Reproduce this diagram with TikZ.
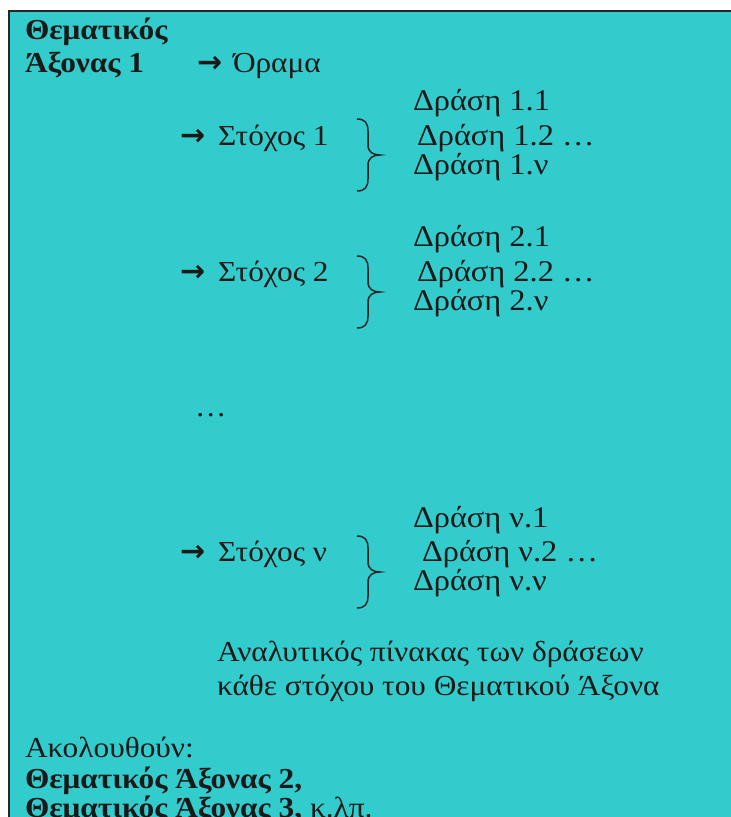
\documentclass[tikz,border=0pt]{standalone}
\usepackage{fontspec}
\setmainfont{Liberation Serif}[FakeStretch=1.08]
\newfontfamily\arrowfont{DejaVu Sans}
\definecolor{boxteal}{RGB}{51,204,204}
\tikzset{
  txt/.style={anchor=base west, inner sep=0pt, outer sep=0pt, font=\fontsize{29}{34}\selectfont, text=black!90},
  btxt/.style={txt, font=\fontsize{29}{34}\selectfont\bfseries},
  dtxt/.style={txt, font=\fontsize{30}{35}\selectfont},
  arr/.style={anchor=base west, inner sep=0pt, outer sep=0pt, font=\arrowfont\bfseries\fontsize{30}{36}\selectfont, text=black!90},
  bracestyle/.style={line width=1.5pt, black!85},
}
\newcommand{\mybrace}[3]{% x, ytop, ymid
  \draw[bracestyle] (#1,#2) .. controls ++(8,0) and ++(0,-8) .. (#1+11,#2+12)
    -- (#1+11,#3-10) .. controls ++(0,7) and ++(-7,0) .. (#1+23,#3)
    .. controls ++(-7,0) and ++(0,-7) .. (#1+11,#3+10)
    -- (#1+11,2*#3-#2-12) .. controls ++(0,8) and ++(8,0) .. (#1,2*#3-#2);
}
\begin{document}
\begin{tikzpicture}[x=1pt,y=-1pt]
\useasboundingbox (0,0) rectangle (731,817);
\clip (0,0) rectangle (731,817);
\fill[white] (0,0) rectangle (731,817);
\fill[boxteal] (9,11) rectangle (740,830);
\draw[line width=2pt, black!85] (9,830) -- (9,11) -- (740,11);

\node[btxt] (t1) at (25,39) {Θεματικός};
\node[btxt] (t2) at (25,72) {Άξονας 1};
\node[arr] (a0) at (197,72) {→};
\node[txt] (orama) at (233,72) {Όραμα};

\node[dtxt] (d11) at (413,110) {Δράση 1.1};
\node[arr] (a1) at (180,145) {→};
\node[txt] (s1) at (218,145) {Στόχος 1};
\node[dtxt] (d12) at (417,145) {Δράση 1.2 …};
\node[dtxt] (d1n) at (413,174) {Δράση 1.ν};
\mybrace{357}{119}{155}

\node[dtxt] (d21) at (413,246) {Δράση 2.1};
\node[arr] (a2) at (180,281) {→};
\node[txt] (s2) at (218,281) {Στόχος 2};
\node[dtxt] (d22) at (417,281) {Δράση 2.2 …};
\node[dtxt] (d2n) at (413,310) {Δράση 2.ν};
\mybrace{357}{256}{292}

\node[txt] (dots) at (195,416) {…};

\node[dtxt] (dn1) at (413,527) {Δράση ν.1};
\node[arr] (an) at (180,561) {→};
\node[txt] (sn) at (218,561) {Στόχος ν};
\node[dtxt] (dn2) at (422,561) {Δράση ν.2 …};
\node[dtxt] (dnn) at (413,590) {Δράση ν.ν};
\mybrace{357}{536}{572}

\node[txt] (an1) at (217,661) {Αναλυτικός πίνακας των δράσεων};
\node[txt] (an2) at (217,695) {κάθε στόχου του Θεματικού Άξονα};

\node[txt] (ak) at (25,757) {Ακολουθούν:};
\node[btxt] (ax2) at (25,788) {Θεματικός Άξονας 2,};
\node[txt] (ax3) at (25,817) {\textbf{Θεματικός Άξονας 3,} κ.λπ.};
\end{tikzpicture}
\end{document}
